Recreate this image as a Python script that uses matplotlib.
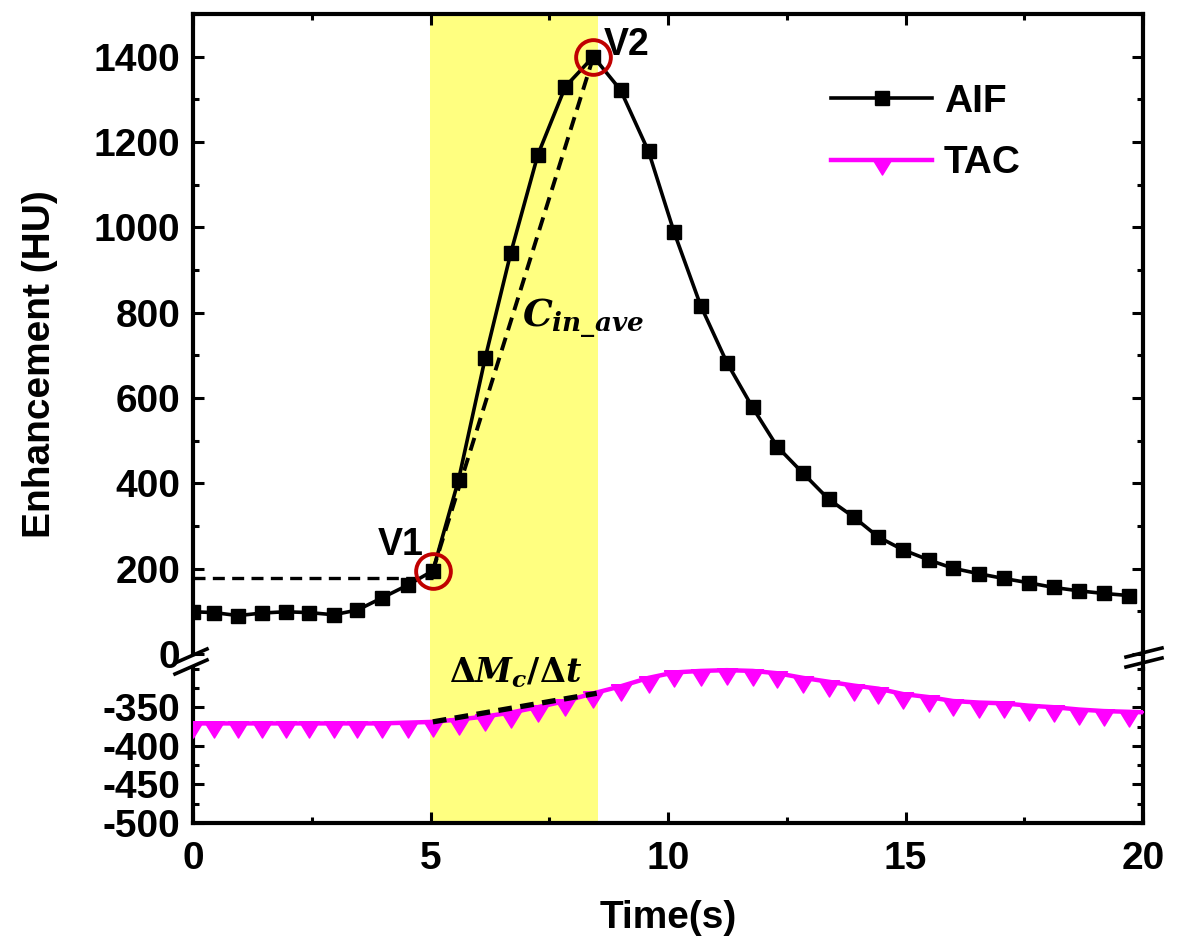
import matplotlib
matplotlib.use('Agg')
import matplotlib.pyplot as plt
from matplotlib.lines import Line2D
from matplotlib.patches import Rectangle
import matplotlib.transforms as mtransforms
from matplotlib.ticker import MultipleLocator, FixedLocator

plt.rcParams['font.family'] = ['Liberation Sans', 'DejaVu Sans']
plt.rcParams['font.weight'] = 'bold'
plt.rcParams['axes.unicode_minus'] = False
plt.rcParams['mathtext.fontset'] = 'custom'
plt.rcParams['mathtext.it'] = 'DejaVu Serif:italic:bold'
plt.rcParams['mathtext.rm'] = 'DejaVu Serif:bold'
plt.rcParams['mathtext.bf'] = 'DejaVu Serif:bold'

# ---------------- data ----------------
aif_t = [0.0, 0.45, 0.95, 1.45, 1.95, 2.45, 2.96, 3.46, 3.97, 4.53, 5.05, 5.59,
         6.15, 6.69, 7.26, 7.84, 8.43, 9.00, 9.59, 10.13, 10.69, 11.24, 11.78,
         12.30, 12.84, 13.38, 13.91, 14.43, 14.95, 15.50, 16.00, 16.55, 17.07,
         17.59, 18.12, 18.65, 19.17, 19.70]
aif_v = [99, 97, 90, 96, 99, 97, 92, 103, 131, 162, 195, 408,
         693, 940, 1170, 1330, 1400, 1322, 1178, 988, 816, 683, 578,
         486, 424, 363, 321, 274, 244, 220, 201, 188, 177,
         167, 156, 148, 142, 137]

tac_t = [0.0, 0.45, 0.95, 1.45, 1.95, 2.45, 2.96, 3.46, 3.97, 4.53, 5.05, 5.59,
         6.15, 6.69, 7.26, 7.84, 8.43, 9.00, 9.59, 10.13, 10.69, 11.24, 11.78,
         12.30, 12.84, 13.38, 13.91, 14.43, 14.95, 15.50, 16.00, 16.55, 17.07,
         17.59, 18.12, 18.65, 19.17, 19.70, 20.22]
tac_v = [-371, -371, -371, -371, -371, -371, -371, -371, -371, -370, -369, -366,
         -362, -357, -350, -342, -332, -323, -312, -305, -303, -302, -303,
         -306, -312, -317, -322, -326, -333, -337, -342, -344, -345,
         -348, -350, -353, -355, -356, -357]

series_names = ['AIF', 'TAC']
x_ticks = [0, 5, 10, 15, 20]
upper_ticks = [0, 200, 400, 600, 800, 1000, 1200, 1400]
lower_ticks = [-500, -450, -400, -350]

span_start, span_end = 4.99, 8.53
v1 = (5.05, 195)
v2 = (8.43, 1400)
baseline_level = 178
dm_start = (5.05, -369)
dm_end = (8.50, -332)

# ---------------- layout ----------------
W, H = 1185, 947
fig = plt.figure(figsize=(W / 100, H / 100), dpi=100)


def fx(px):
    return px / W


def fy(py):
    return 1 - py / H


L, R = 193, 1143
top_px, zero_px = 14, 654
low_top_px, bottom_px = 668.6, 823

ax1 = fig.add_axes([fx(L), fy(zero_px), fx(R) - fx(L), fy(top_px) - fy(zero_px)])
ax2 = fig.add_axes([fx(L), fy(bottom_px), fx(R) - fx(L), fy(low_top_px) - fy(bottom_px)])

for ax in (ax1, ax2):
    ax.set_facecolor('none')
    ax.set_xlim(0, 20)
    for s in ax.spines.values():
        s.set_linewidth(3)
    ax.tick_params(which='major', direction='in', length=8, width=2.2, labelsize=28, pad=9)
    ax.tick_params(which='minor', direction='in', length=4.5, width=2.2)
    ax.xaxis.set_major_locator(FixedLocator(x_ticks))
    ax.xaxis.set_minor_locator(MultipleLocator(2.5))

ax1.set_ylim(0, 1500)
ax1.yaxis.set_major_locator(FixedLocator(upper_ticks))
ax1.yaxis.set_minor_locator(MultipleLocator(100))
ax1.spines['bottom'].set_visible(False)
ax1.tick_params(axis='x', which='both', bottom=False, top=True, labelbottom=False)
ax1.tick_params(axis='y', which='both', left=True, right=True)

ax2.set_ylim(-500, -300)
ax2.yaxis.set_major_locator(FixedLocator(lower_ticks))
ax2.yaxis.set_minor_locator(MultipleLocator(25))
ax2.spines['top'].set_visible(False)
ax2.tick_params(axis='x', which='both', bottom=True, top=False)
ax2.tick_params(axis='x', which='major', pad=13)
ax2.tick_params(axis='y', which='both', left=True, right=True)
ax2.set_xticklabels([str(t) for t in x_ticks])

# yellow highlighted window spanning both panels
blend = mtransforms.blended_transform_factory(ax1.transData, fig.transFigure)
rect = Rectangle((span_start, fy(bottom_px)), span_end - span_start,
                 fy(top_px) - fy(bottom_px), transform=blend,
                 facecolor='#FFFF80', edgecolor='none', zorder=-1)
fig.add_artist(rect)

# AIF
ax1.plot(aif_t, aif_v, color='black', lw=2.6, marker='s', ms=10, zorder=3)

# TAC with hanging down-triangles (clipped only horizontally)
tri = [(-1.0, 0.18), (1.0, 0.18), (0.0, -1.45), (-1.0, 0.18)]
tac_line, = ax2.plot(tac_t, tac_v, color='#FF00FF', lw=3.2, marker=tri, ms=21, zorder=3)
clip_rect = Rectangle((0, -0.2), 1, 1.4, transform=ax2.transAxes, facecolor='none',
                      edgecolor='none')
tac_line.set_clip_path(clip_rect)

# dashed annotation lines
ax1.plot([0, v1[0]], [baseline_level, baseline_level], color='black', lw=2.4,
         dashes=(3.6, 2.2), zorder=4)
ax1.plot([v1[0], v2[0]], [v1[1], v2[1]], color='black', lw=2.8,
         dashes=(3.4, 2.0), zorder=4)
ax2.plot([dm_start[0], dm_end[0]], [dm_start[1], dm_end[1]], color='black', lw=3.8,
         dashes=(2.6, 1.6), zorder=4)

# V1 / V2 circles
for p in (v1, v2):
    ax1.plot([p[0]], [p[1]], marker='o', ms=25, mfc='none', mec='#C00000', mew=2.8,
             zorder=5, clip_on=False)

ax1.text(4.38, 255, 'V1', fontsize=27, fontweight='bold', ha='center', va='center')
ax1.text(9.12, 1428, 'V2', fontsize=27, fontweight='bold', ha='center', va='center')

ax1.text(6.93, 767, r'$C_{in\_ave}$', fontsize=27, ha='left', va='baseline', zorder=6)
ax2.text(6.80, -305, r'$\mathit{\Delta} M_c/\mathit{\Delta} t$', fontsize=24,
         ha='center', va='center', clip_on=False, zorder=6)

# right spine continues through the break
fig.add_artist(Line2D([fx(R), fx(R)], [fy(zero_px), fy(low_top_px)], color='black',
                      lw=3, transform=fig.transFigure))

# break marks
def brk(x0, y0, x1, y1):
    fig.add_artist(Line2D([fx(x0), fx(x1)], [fy(y0), fy(y1)], color='black', lw=2.6,
                          transform=fig.transFigure, zorder=10))

brk(175, 663, 207, 649)
brk(175, 674, 207, 660)
brk(1126, 657, 1162, 648)
brk(1126, 667, 1162, 658)

# legend
handles = [Line2D([], [], color='black', lw=2.6, marker='s', ms=10),
           Line2D([], [], color='#FF00FF', lw=3.2, marker=tri, ms=21)]
fig.legend(handles, series_names, loc='upper left', bbox_to_anchor=(fx(831), fy(84)),
           bbox_transform=fig.transFigure, frameon=False, fontsize=28,
           handlelength=2.6, handletextpad=0.3, labelspacing=0.65, borderpad=0,
           borderaxespad=0, numpoints=1)

# axis labels
fig.text(fx(668), fy(918), 'Time(s)', ha='center', va='center', fontsize=28,
         fontweight='bold')
fig.text(fx(40), fy(364), 'Enhancement (HU)', ha='center', va='center', fontsize=28,
         fontweight='bold', rotation=90)

fig.savefig('out.png', dpi=100)
